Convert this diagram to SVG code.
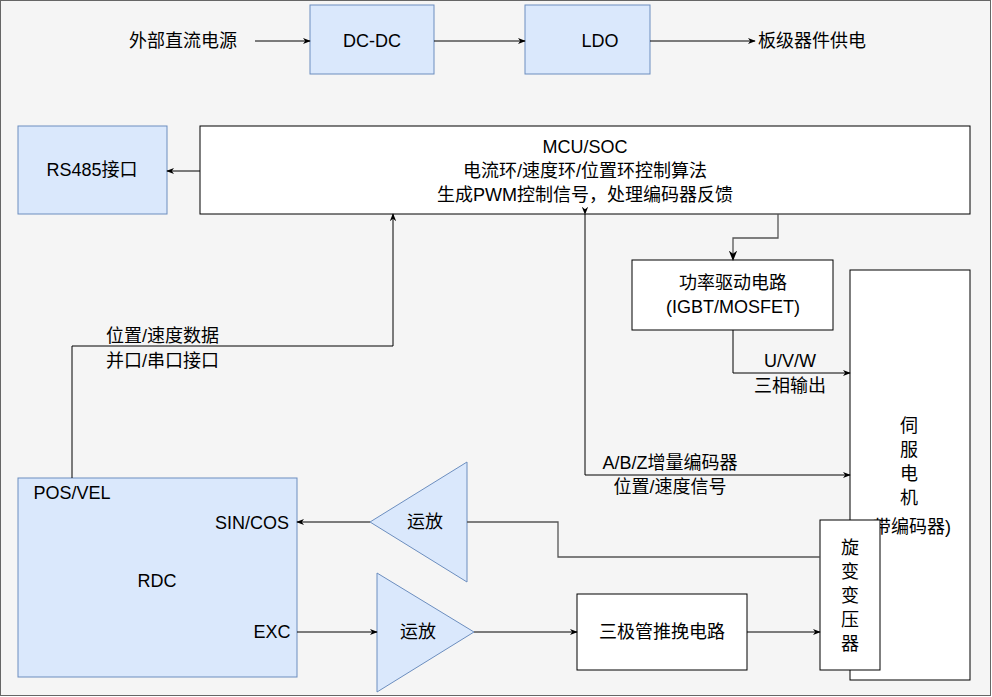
<svg xmlns="http://www.w3.org/2000/svg" width="992" height="697" viewBox="0 0 992 697">
<defs>
<marker id="a" viewBox="0 0 10 10" refX="9" refY="5" markerWidth="8" markerHeight="8" orient="auto"><path d="M0,1 L10,5 L0,9 L3,5 Z" fill="#000"/></marker>
<style>
text{font-family:"Liberation Sans","Noto Sans CJK SC",sans-serif;font-size:18px;fill:#000;text-anchor:middle;dominant-baseline:central}
.b{fill:#dae8fc;stroke:#6c8ebf;stroke-width:1}
.w{fill:#fff;stroke:#000;stroke-width:1}
.c{fill:none;stroke:#000;stroke-width:1}
.g{fill:none;stroke:#555;stroke-width:1.3}
.l{text-anchor:start}
</style>
</defs>
<rect x="0.5" y="0.5" width="990" height="695" fill="#f5f5f5" stroke="#666"/>
<g id="src"><text x="183" y="41" font-size="19">外部直流电源</text></g>
<g id="dcdc"><rect class="b" x="310" y="5" width="124" height="69"/><text x="372" y="41">DC-DC</text></g>
<g id="ldo"><rect class="b" x="525" y="5" width="125" height="69"/><text x="600" y="41">LDO</text></g>
<g id="out"><text x="812" y="41" font-size="19">板级器件供电</text></g>
<g id="rs485"><rect class="b" x="18" y="126" width="149" height="88"/><text x="92" y="170">RS485接口</text></g>
<g id="mcu"><rect class="w" x="200" y="126" width="770" height="88"/>
<text x="585" y="147">MCU/SOC</text><text x="585" y="171">电流环/速度环/位置环控制算法</text><text x="585" y="195">生成PWM控制信号，处理编码器反馈</text></g>
<g id="drv"><rect class="w" x="632" y="260" width="201" height="70"/><text x="733" y="283">功率驱动电路</text><text x="733" y="307">(IGBT/MOSFET)</text></g>
<g id="motor"><rect class="w" x="850" y="270" width="120" height="410"/>
<text x="909" y="426">伺</text><text x="909" y="450">服</text><text x="909" y="474">电</text><text x="909" y="498">机</text>
<text x="909" y="527" font-size="10">(带编码器)</text></g>
<g id="resolver"><rect class="w" x="820" y="520" width="60" height="150"/>
<text x="850" y="548">旋</text><text x="850" y="572">变</text><text x="850" y="596">变</text><text x="850" y="620">压</text><text x="850" y="644">器</text></g>
<g id="rdc"><rect class="b" x="18" y="478" width="279" height="199"/>
<text x="72" y="493">POS/VEL</text><text x="252" y="523">SIN/COS</text><text x="157" y="581" font-size="24">RDC</text><text x="272" y="632">EXC</text></g>
<g id="amp1"><path class="b" d="M370,522 L467,462 L467,582 Z"/><text x="425" y="522">运放</text></g>
<g id="amp2"><path class="b" d="M377,573 L377,692 L474,632 Z"/><text x="418" y="632">运放</text></g>
<g id="push"><rect class="w" x="577" y="594" width="170" height="76"/><text x="662" y="632">三极管推挽电路</text></g>
<g id="connectors">
<path class="c" d="M255,41 H310" marker-end="url(#a)"/>
<path class="c" d="M434,41 H525" marker-end="url(#a)"/>
<path class="c" d="M650,41 H755" marker-end="url(#a)"/>
<path class="c" d="M200,171 H167" marker-end="url(#a)"/>
<path class="g" d="M778,214 V238 H733 V260" marker-end="url(#a)"/>
<path class="c" d="M733,330 V373 H850" marker-end="url(#a)"/>
<path class="c" d="M585,214 V475 H850" marker-start="url(#a)" marker-end="url(#a)" style="stroke-width:1"/>
<path class="c" d="M72,478 V346 H393 V214" marker-end="url(#a)"/>
<path class="g" d="M820,557 H558 V522 H467"/>
<path class="c" d="M370,522 H297" marker-end="url(#a)"/>
<path class="c" d="M297,632 H377" marker-end="url(#a)"/>
<path class="c" d="M474,632 H577" marker-end="url(#a)"/>
<path class="c" d="M747,632 H820" marker-end="url(#a)"/>
<text x="790" y="361">U/V/W</text><text x="790" y="386">三相输出</text>
<text x="670" y="463">A/B/Z增量编码器</text><text x="670" y="487">位置/速度信号</text>
<text class="l" x="106" y="336">位置/速度数据</text><text class="l" x="106" y="361">并口/串口接口</text>
</g>
</svg>
